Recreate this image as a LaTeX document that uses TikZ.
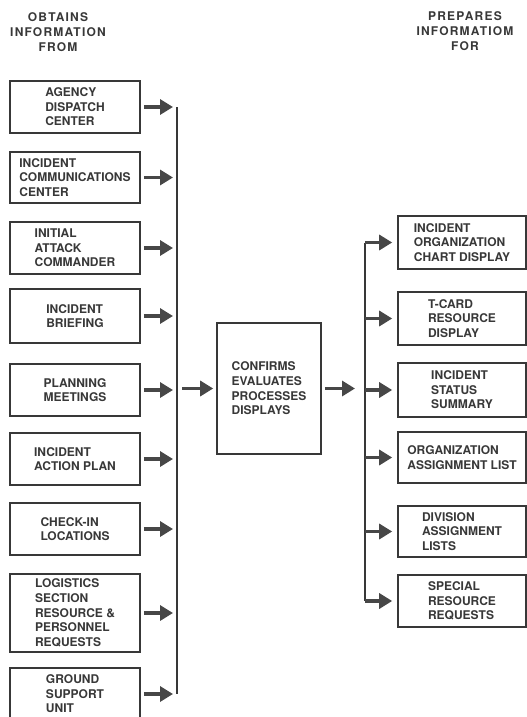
\documentclass[tikz,border=0pt]{standalone}
\usepackage{fontspec}
\setmainfont{TeX Gyre Heros}
\newfontfamily\hdrfont[LetterSpace=10]{TeX Gyre Heros}
\usetikzlibrary{arrows.meta}
\definecolor{ink}{gray}{0.22}
\definecolor{arrowgray}{gray}{0.28}
\tikzset{
  box/.style={draw=ink,line width=1.6pt,align=left,inner sep=0pt,text=ink,
    font=\bfseries\fontsize{12}{14.6}\selectfont},
  srcbox/.style={box,minimum width=130pt},
  dstbox/.style={box,minimum width=128pt},
  hdr/.style={align=center,inner sep=0pt,text=ink,font=\hdrfont\bfseries\fontsize{12}{15}\selectfont},
  feed/.style={draw=arrowgray,line width=3.5pt,-{Triangle[length=13pt,width=15pt]}},
  bus/.style={draw=ink,line width=1.6pt}
}

\begin{document}
\begin{tikzpicture}[x=1pt,y=-1pt]
\useasboundingbox (0,0) rectangle (527,717);
\clip (0,0) rectangle (527,717);
\node[hdr] (hdrL) at (58,32) {OBTAINS\\INFORMATION\\FROM};
\node[hdr] (hdrR) at (465,31) {PREPARES\\INFORMATIOM\\FOR};

\node[srcbox,minimum height=52pt] (src1) at (75,107) {AGENCY\\DISPATCH\\CENTER};
\node[srcbox,minimum height=51pt] (src2) at (75,177.5) {INCIDENT\\COMMUNICATIONS\\CENTER};
\node[srcbox,minimum height=52pt] (src3) at (75,248) {INITIAL\\ATTACK\\COMMANDER};
\node[srcbox,minimum height=54pt] (src4) at (75,316) {INCIDENT\\BRIEFING};
\node[srcbox,minimum height=52pt] (src5) at (75,390) {PLANNING\\MEETINGS};
\node[srcbox,minimum height=52pt] (src6) at (75,459) {INCIDENT\\ACTION PLAN};
\node[srcbox,minimum height=52pt] (src7) at (75,529) {CHECK-IN\\LOCATIONS};
\node[srcbox,minimum height=78pt] (src8) at (75,613) {LOGISTICS\\SECTION\\RESOURCE \&\\PERSONNEL\\REQUESTS};
\node[srcbox,minimum height=52pt] (src9) at (75,694) {GROUND\\SUPPORT\\UNIT};

\node[box,minimum width=104pt,minimum height=131pt] (proc) at (269,388.5) {CONFIRMS\\EVALUATES\\PROCESSES\\DISPLAYS};

\node[dstbox,minimum height=53pt] (dst1) at (462,242.5) {INCIDENT\\ORGANIZATION\\CHART DISPLAY};
\node[dstbox,minimum height=53pt] (dst2) at (462,318.5) {T-CARD\\RESOURCE\\DISPLAY};
\node[dstbox,minimum height=54pt] (dst3) at (462,390) {INCIDENT\\STATUS\\SUMMARY};
\node[dstbox,minimum height=51pt] (dst4) at (462,457.5) {ORGANIZATION\\ASSIGNMENT LIST};
\node[dstbox,minimum height=51pt] (dst5) at (462,531.5) {DIVISION\\ASSIGNMENT\\LISTS};
\node[dstbox,minimum height=52pt] (dst6) at (462,601) {SPECIAL\\RESOURCE\\REQUESTS};

\coordinate (busLtop) at (177,107);
\coordinate (busLbot) at (177,694);
\coordinate (busRtop) at (365,242.5);
\coordinate (busRbot) at (365,601);
\draw[bus] (busLtop) -- (busLbot);
\draw[bus] (busRtop) -- (busRbot);

\draw[feed,shorten <=3pt,shorten >=4pt] (src1.east) -- (src1.east -| busLtop);
\draw[feed,shorten <=3pt,shorten >=4pt] (src2.east) -- (src2.east -| busLtop);
\draw[feed,shorten <=3pt,shorten >=4pt] (src3.east) -- (src3.east -| busLtop);
\draw[feed,shorten <=3pt,shorten >=4pt] (src4.east) -- (src4.east -| busLtop);
\draw[feed,shorten <=3pt,shorten >=4pt] (src5.east) -- (src5.east -| busLtop);
\draw[feed,shorten <=3pt,shorten >=4pt] (src6.east) -- (src6.east -| busLtop);
\draw[feed,shorten <=3pt,shorten >=4pt] (src7.east) -- (src7.east -| busLtop);
\draw[feed,shorten <=3pt,shorten >=4pt] (src8.east) -- (src8.east -| busLtop);
\draw[feed,shorten <=3pt,shorten >=4pt] (src9.east) -- (src9.east -| busLtop);

\draw[feed,shorten <=5pt,shorten >=3pt] (proc.west -| busLtop) -- (proc.west);
\draw[feed,shorten <=3pt,shorten >=10pt] (proc.east) -- (proc.east -| busRtop);

\draw[feed,shorten >=5pt] (dst1.west -| busRtop) -- (dst1.west);
\draw[feed,shorten >=5pt] (dst2.west -| busRtop) -- (dst2.west);
\draw[feed,shorten >=5pt] (dst3.west -| busRtop) -- (dst3.west);
\draw[feed,shorten >=5pt] (dst4.west -| busRtop) -- (dst4.west);
\draw[feed,shorten >=5pt] (dst5.west -| busRtop) -- (dst5.west);
\draw[feed,shorten >=5pt] (dst6.west -| busRtop) -- (dst6.west);
\end{tikzpicture}
\end{document}
